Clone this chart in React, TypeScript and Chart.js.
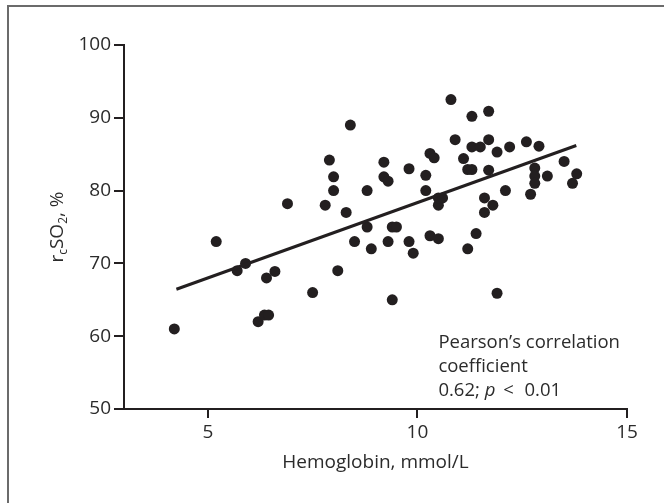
import React, { useEffect, useRef } from 'react';
import { Chart, registerables } from 'chart.js';

Chart.register(...registerables);

// Hemoglobin (mmol/L) for each patient
const hemoglobin = [
  4.2, 5.2, 5.7, 5.9, 6.2, 6.35, 6.45, 6.4, 6.6, 6.9,
  7.5, 7.8, 7.9, 8.0, 8.0, 8.1, 8.3, 8.4, 8.5, 8.8,
  8.8, 8.9, 9.2, 9.2, 9.3, 9.3, 9.4, 9.5, 9.4, 9.8,
  9.8, 9.9, 10.2, 10.2, 10.3, 10.4, 10.3, 10.5, 10.5, 10.5,
  10.6, 10.8, 10.9, 11.1, 11.2, 11.2, 11.3, 11.3, 11.3, 11.4,
  11.5, 11.6, 11.6, 11.7, 11.7, 11.7, 11.8, 11.9, 11.9, 12.1,
  12.2, 12.6, 12.7, 12.8, 12.8, 12.8, 12.9, 13.1, 13.5, 13.7,
  13.8,
];
// rcSO2 (%) for each patient
const rcso2 = [
  61.0, 73.0, 69.0, 70.0, 62.0, 62.9, 62.9, 68.0, 68.9, 78.2,
  66.0, 78.0, 84.2, 81.9, 80.0, 69.0, 77.0, 89.0, 73.0, 75.0,
  80.0, 72.0, 83.9, 81.9, 81.3, 73.0, 75.0, 75.0, 65.0, 83.0,
  73.0, 71.4, 82.1, 80.0, 85.1, 84.5, 73.8, 73.4, 78.0, 79.0,
  79.0, 92.5, 87.0, 84.4, 72.0, 82.9, 82.9, 90.2, 86.0, 74.1,
  86.0, 79.0, 77.0, 90.9, 87.0, 82.8, 78.0, 85.3, 65.9, 80.0,
  86.0, 86.7, 79.5, 83.1, 82.0, 81.0, 86.1, 82.0, 84.0, 81.0,
  82.3,
];
// regression line end points
const fitX = [4.25, 13.79];
const fitY = [66.45, 86.2];

const xTicks = [5, 10, 15];
const yMin = 50;
const yMax = 100;
const xMin = 3;
const xMax = 15;

const xTitle = 'Hemoglobin, mmol/L';
const annotationLines = ['Pearson\u2019s correlation', 'coefficient'];
const annotationStat = ['0.62; ', 'p', ' < ', '0.01'];

const FONT = "'Open Sans', sans-serif";
const INK = '#231f20';
const TEXT = '#2b2b2b';

const textPlugin = {
  id: 'customText',
  afterDraw(chart: any) {
    const ctx = chart.ctx as CanvasRenderingContext2D;
    const area = chart.chartArea;
    const xs = chart.scales.x;
    ctx.save();
    ctx.fillStyle = TEXT;

    // x title
    ctx.font = `19px ${FONT}`;
    ctx.textAlign = 'center';
    ctx.textBaseline = 'alphabetic';
    ctx.fillText(xTitle, (area.left + area.right) / 2, area.bottom + 59);

    // annotation
    ctx.textAlign = 'left';
    const ax = xs.getPixelForValue(10.5);
    ctx.font = `18.5px ${FONT}`;
    ctx.fillText(annotationLines[0], ax, area.bottom - 61);
    ctx.fillText(annotationLines[1], ax, area.bottom - 37);
    let cx = ax;
    const gaps = [0, 0, 3, 3];
    annotationStat.forEach((seg, i) => {
      ctx.font = i === 1 ? `italic 18.5px ${FONT}` : `18.5px ${FONT}`;
      cx += gaps[i];
      if (i === 2) {
        // " < " drawn with a little extra air around the sign
        ctx.fillText('<', cx + ctx.measureText(' ').width, area.bottom - 13);
        cx += ctx.measureText(seg).width + 3;
      } else {
        ctx.fillText(seg, cx, area.bottom - 13);
        cx += ctx.measureText(seg).width;
      }
    });

    // y title with subscripts, rotated
    const segs = [
      { t: 'r', sub: false },
      { t: 'c', sub: true },
      { t: 'SO', sub: false },
      { t: '2', sub: true },
      { t: ', %', sub: false },
    ];
    const mainFont = `19px ${FONT}`;
    const subFont = `12px ${FONT}`;
    let total = 0;
    segs.forEach((s) => {
      ctx.font = s.sub ? subFont : mainFont;
      total += ctx.measureText(s.t).width;
    });
    ctx.translate(63, (area.top + area.bottom) / 2);
    ctx.rotate(-Math.PI / 2);
    let px = -total / 2;
    segs.forEach((s) => {
      ctx.font = s.sub ? subFont : mainFont;
      ctx.fillText(s.t, px, s.sub ? 4 : 0);
      px += ctx.measureText(s.t).width;
    });
    ctx.restore();
  },
};

export default function App() {
  const ref = useRef<HTMLCanvasElement | null>(null);

  useEffect(() => {
    if (!ref.current) return;
    const points = hemoglobin.map((x, i) => ({ x, y: rcso2[i] }));
    const fit = fitX.map((x, i) => ({ x, y: fitY[i] }));
    const chart = new Chart(ref.current, {
      type: 'scatter',
      data: {
        datasets: [
          {
            data: points,
            backgroundColor: INK,
            borderWidth: 0,
            pointRadius: 5.5,
            order: 1,
          },
          {
            type: 'line',
            data: fit,
            borderColor: INK,
            borderWidth: 3,
            pointRadius: 0,
            fill: false,
            order: 0,
          } as any,
        ],
      },
      options: {
        responsive: false,
        animation: false,
        devicePixelRatio: 1,
        layout: { padding: { left: 0, right: 37, top: 45, bottom: 0 } },
        plugins: { legend: { display: false }, tooltip: { enabled: false } },
        scales: {
          x: {
            type: 'linear',
            min: xMin,
            max: xMax,
            afterBuildTicks: (s: any) => {
              s.ticks = xTicks.map((v) => ({ value: v }));
            },
            afterFit: (s: any) => {
              s.height = 94;
            },
            border: { display: true, color: INK, width: 2 },
            grid: {
              display: true,
              drawOnChartArea: false,
              drawTicks: true,
              tickLength: 9,
              color: INK,
              lineWidth: 2,
            },
            ticks: {
              font: { family: FONT, size: 19 },
              color: TEXT,
              padding: 3,
              maxRotation: 0,
            },
          },
          y: {
            type: 'linear',
            min: yMin,
            max: yMax,
            afterFit: (s: any) => {
              s.width = 124;
            },
            border: { display: true, color: INK, width: 2 },
            grid: {
              display: true,
              drawOnChartArea: false,
              drawTicks: true,
              tickLength: 10,
              color: INK,
              lineWidth: 2,
            },
            ticks: {
              stepSize: 10,
              font: { family: FONT, size: 19 },
              color: TEXT,
              padding: 3,
            },
          },
        },
      },
      plugins: [textPlugin],
    });
    return () => chart.destroy();
  }, []);

  return (
    <div
      style={{
        position: 'fixed',
        left: 0,
        top: 0,
        width: 664,
        height: 503,
        background: '#fff',
        overflow: 'hidden',
      }}
    >
      <div
        style={{
          position: 'absolute',
          left: 7,
          top: 5,
          width: 700,
          height: 600,
          border: '2px solid #6b6b6b',
          boxSizing: 'border-box',
        }}
      />
      <canvas
        ref={ref}
        width={664}
        height={503}
        style={{ position: 'absolute', left: 0, top: 0, width: 664, height: 503 }}
      />
    </div>
  );
}
